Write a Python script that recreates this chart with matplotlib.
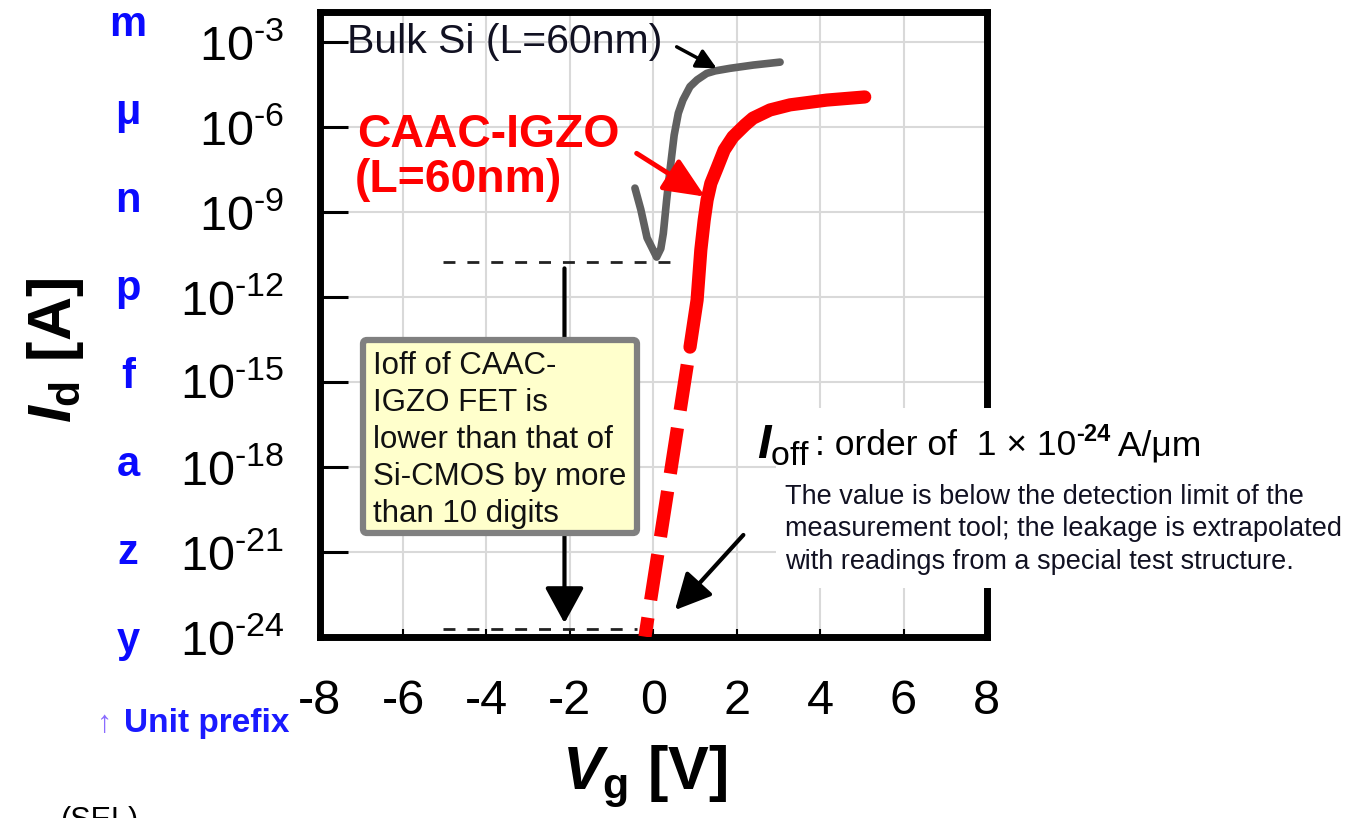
import matplotlib
matplotlib.use('Agg')
import matplotlib.pyplot as plt
from matplotlib.transforms import Affine2D
from matplotlib.patches import Rectangle, FancyBboxPatch

plt.rcParams['font.family'] = ['Liberation Sans', 'DejaVu Sans']
plt.rcParams['mathtext.fontset'] = 'custom'
plt.rcParams['mathtext.rm'] = 'Liberation Sans'
plt.rcParams['mathtext.it'] = 'Liberation Sans:italic:bold'
plt.rcParams['mathtext.bf'] = 'Liberation Sans:bold'
plt.rcParams['axes.unicode_minus'] = False

# Id-Vg curves (Vg in V, Id in A)
bulk_vg = [-0.44, -0.30, -0.15, 0.08, 0.18, 0.24, 0.32, 0.40, 0.50, 0.60, 0.71, 0.88,
           1.05, 1.28, 1.48, 1.84, 2.40, 3.04]
bulk_id = [6.8e-9, 1.2e-9, 1.2e-10, 2.5e-11, 5.0e-11, 1.7e-10, 2.6e-9, 2.9e-8, 5.0e-7,
           3.0e-6, 8.7e-6, 2.6e-5, 4.5e-5, 7.6e-5, 9.3e-5, 1.15e-4, 1.5e-4, 1.9e-4]
igzo_vg = [0.88, 1.05, 1.14, 1.22, 1.29, 1.38, 1.53, 1.70, 1.91, 2.20, 2.39, 2.80,
           3.28, 4.16, 5.07]
igzo_id = [1.66e-14, 7.6e-13, 4.5e-11, 5.0e-10, 2.6e-9, 1.0e-8, 3.5e-8, 1.5e-7, 4.4e-7,
           1.15e-6, 2.0e-6, 3.9e-6, 5.9e-6, 8.7e-6, 1.12e-5]
# extrapolated part (dashed), from the measured end down to the axis
igzo_ext_vg = [0.88, -0.20]
igzo_ext_id = [1.66e-14, 1.0e-24]

si_off = 1.7e-11
igzo_off = 1.8e-24
off_vg_si = [-5.05, 0.48]
off_vg_igzo = [-5.05, -0.40]

x_ticks = [-8, -6, -4, -2, 0, 2, 4, 6, 8]
y_exps = [-3, -6, -9, -12, -15, -18, -21, -24]
prefixes = ['m', 'μ', 'n', 'p', 'f', 'a', 'z', 'y']

W, H = 1350, 818
fig = plt.figure(figsize=(W / 100, H / 100), dpi=100)
pix = Affine2D().scale(1 / W, -1 / H).translate(0, 1) + fig.transFigure

ax = fig.add_axes([319.7 / W, 1 - 636.7 / H, (986.9 - 319.7) / W, (636.7 - 12) / H])
ax.set_yscale('log')
ax.set_xlim(-8, 8)
ax.set_ylim(1e-24, 10 ** -1.952)

ax.grid(True, color='#d9d9d9', lw=1.5)
ax.set_axisbelow(True)
for s in ax.spines.values():
    s.set_linewidth(5)
ax.set_xticks(x_ticks)
ax.set_xticklabels([str(v) for v in x_ticks])
ax.set_yticks([10.0 ** e for e in y_exps])
ax.set_yticklabels([r'$\mathregular{10^{\text{-}%d}}$' % abs(e) for e in y_exps])
ax.yaxis.set_minor_locator(matplotlib.ticker.NullLocator())
ax.tick_params(axis='y', direction='in', length=20, width=2.2, pad=25.5, labelsize=35)
ax.tick_params(axis='x', direction='in', length=6, width=1.5, pad=30.5, labelsize=35)

# curves
ax.plot(bulk_vg, bulk_id, color='#606060', lw=5.5, solid_capstyle='round',
        solid_joinstyle='round', zorder=3)
ax.plot(igzo_vg, igzo_id, color='#ff0000', lw=9.5, solid_capstyle='round',
        solid_joinstyle='round', zorder=4)
ax.plot(igzo_ext_vg, igzo_ext_id, color='#ff0000', lw=9.5, ls=(3.5, (3.5, 1.35)),
        dash_capstyle='butt', zorder=4)

# off-current levels
ax.plot(off_vg_si, [si_off, si_off], color='#222222', lw=2, dashes=(4.3, 4.3), zorder=2)
ax.plot(off_vg_igzo, [igzo_off, igzo_off], color='#222222', lw=2, dashes=(4.3, 4.3), zorder=2)


def arrow(tail, tip, color, lw, hl, hw):
    ax.annotate('', xy=tip, xytext=tail,
                arrowprops=dict(arrowstyle='-|>,head_length=%g,head_width=%g' % (hl, hw),
                                color=color, lw=lw, shrinkA=0, shrinkB=0,
                                mutation_scale=1), zorder=5)


arrow((-2.13, 1.0e-11), (-2.13, 3.0e-24), 'black', 3, 22, 12)
arrow((-0.40, 1.15e-7), (1.24, 3.4e-9), '#ff0000', 3.5, 25, 11)
arrow((0.56, 6.6e-4), (1.52, 1.15e-4), 'black', 2.5, 12, 6)
arrow((2.16, 3.9e-21), (0.52, 8.7e-24), 'black', 3, 22, 11)

# labels inside plot
fig.text(346.7, 53, 'Bulk Si (L=60nm)', transform=pix, fontsize=29.5, color='#111122',
         va='baseline', ha='left')
fig.text(357, 147, 'CAAC-IGZO', transform=pix, fontsize=33.4, fontweight='bold',
         color='#ff0000', va='baseline', ha='left')
fig.text(355, 192, '(L=60nm)', transform=pix, fontsize=33.4, fontweight='bold',
         color='#ff0000', va='baseline', ha='left')

# note box
box = FancyBboxPatch((363, 340), 274, 193, boxstyle='round,pad=0,rounding_size=4',
                     transform=pix, facecolor='#ffffcc', edgecolor='#808080', lw=4.5)
fig.patches.append(box)
box_lines = ['Ioff of CAAC-', 'IGZO FET is', 'lower than that of', 'Si-CMOS by more',
             'than 10 digits']
for i, line in enumerate(box_lines):
    fig.text(373, 374 + 37 * i, line, transform=pix, fontsize=22.5, color='#111111',
             va='baseline', ha='left')

# I_off annotation block
fig.patches.append(Rectangle((776, 408), 574, 180, transform=pix, facecolor='white',
                             edgecolor='none'))
fig.text(757, 458, r'$I_{\mathrm{off}}$', transform=pix, fontsize=35, va='baseline', ha='left')
r = fig.canvas.get_renderer()
xc = 815
for txt, size, weight, base in [(': order of  1 × 10', 25.5, 'normal', 455),
                                ('-24', 17, 'bold', 441),
                                (' A/μm', 25.5, 'normal', 455)]:
    t = fig.text(xc, base, txt, transform=pix, fontsize=size, fontweight=weight,
                 va='baseline', ha='left')
    xc = t.get_window_extent(renderer=r).x1
note_lines = ['The value is below the detection limit of the',
              'measurement tool; the leakage is extrapolated',
              'with readings from a special test structure.']
for i, line in enumerate(note_lines):
    fig.text(785, 504 + 32.5 * i, line, transform=pix, fontsize=19.5, va='baseline',
             ha='left', color='#111122')

# unit prefixes
for i, p in enumerate(prefixes):
    fig.text(128, 36 + 88 * i, p, transform=pix, fontsize=30, fontweight='bold',
             color='#0a0aff', ha='center', va='baseline')
fig.text(290, 732, 'Unit prefix', transform=pix, fontsize=24, fontweight='bold',
         color='#1a1aff', ha='right', va='baseline')
fig.text(112, 732, '↑', transform=pix, fontsize=22, color='#8a6cff', ha='right', va='baseline')

# axis titles
fig.text(55, 350, r'$I_{\mathbf{d}}$ [A]', transform=pix, fontsize=44, fontweight='bold',
         rotation=90, ha='center', va='center')
fig.text(645, 777, r'$V_{\mathbf{g}}$ [V]', transform=pix, fontsize=44, fontweight='bold',
         ha='center', va='center')
fig.text(60, 806, '(SEL)', transform=pix, fontsize=22, ha='left', va='top')

fig.savefig('out.png', dpi=100)
